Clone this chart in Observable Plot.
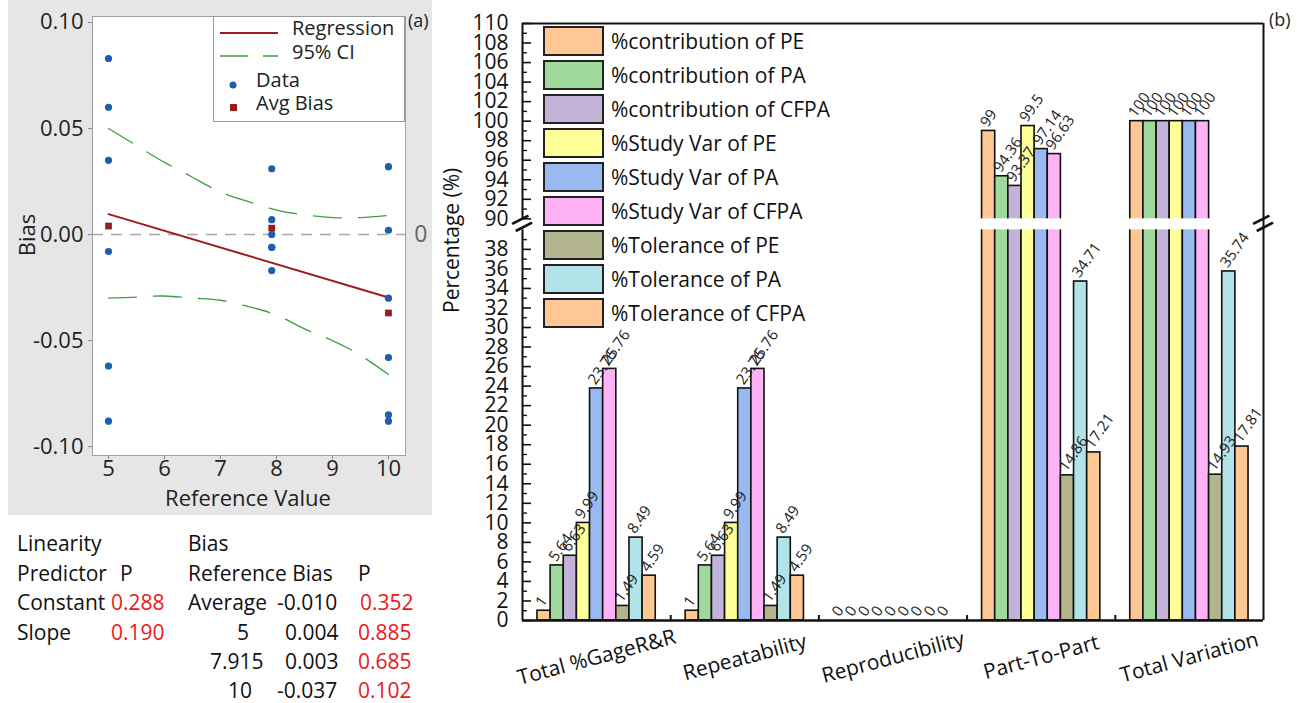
<!DOCTYPE html>
<html><head><meta charset="utf-8">
<script src="https://cdn.jsdelivr.net/npm/d3@7"></script>
<script src="https://cdn.jsdelivr.net/npm/@observablehq/plot@0.6"></script>
<style>
body{margin:0;background:#fff;font-family:"Open Sans",sans-serif;}
#root{position:relative;width:1307px;height:703px;overflow:hidden;}
.abs{position:absolute;white-space:nowrap;line-height:1;}
</style></head><body><div id="root"></div>
<script>
// ---------- Panel (a) data ----------
const refValues = [5, 7.915, 10];
const bias5 = [0.083, 0.060, 0.035, -0.008, -0.062, -0.088];
const bias7915 = [0.031, 0.007, 0.000, -0.006, -0.006, -0.017];
const bias10 = [0.032, 0.002, -0.030, -0.058, -0.085, -0.088];
const avgBias = [0.004, 0.003, -0.037];
const regX = [5, 10];
const regY = [0.0096, -0.0297];
const ciX = [5, 5.5, 6, 6.5, 7, 7.5, 8, 8.5, 9, 9.5, 10];
const ciUpper = [0.050, 0.042, 0.034, 0.027, 0.020, 0.0155, 0.0115, 0.0093, 0.008, 0.008, 0.009];
const ciLower = [-0.030, -0.0295, -0.029, -0.030, -0.031, -0.034, -0.038, -0.0445, -0.050, -0.057, -0.066];
const xTicksA = [5, 6, 7, 8, 9, 10];
const yTicksA = [-0.10, -0.05, 0, 0.05, 0.10];
const legendA = ["Regression", "95% CI", "Data", "Avg Bias"];
// table
const linearityHead = ["Linearity", "Predictor", "P"];
const linearityRows = [["Constant", "0.288"], ["Slope", "0.190"]];
const biasHead = ["Bias", "Reference Bias", "P"];
const biasRows = [["Average", "-0.010", "0.352"], ["5", "0.004", "0.885"], ["7.915", "0.003", "0.685"], ["10", "-0.037", "0.102"]];

// ---------- Panel (b) data ----------
const seriesNames = ["%contribution of PE", "%contribution of PA", "%contribution of CFPA", "%Study Var of PE", "%Study Var of PA", "%Study Var of CFPA", "%Tolerance of PE", "%Tolerance of PA", "%Tolerance of CFPA"];
const seriesColors = ["#FFC794", "#9FD99B", "#C4B3D9", "#FFFF99", "#9BB9F1", "#FFB3F7", "#B1B48D", "#B2E3E8", "#FFC794"];
const categories = ["Total %GageR&R", "Repeatability", "Reproducibility", "Part-To-Part", "Total Variation"];
const totalGageRR = [1, 5.64, 6.63, 9.99, 23.76, 25.76, 1.49, 8.49, 4.59];
const repeatability = [1, 5.64, 6.63, 9.99, 23.76, 25.76, 1.49, 8.49, 4.59];
const reproducibility = [0, 0, 0, 0, 0, 0, 0, 0, 0];
const partToPart = [99, 94.36, 93.37, 99.5, 97.14, 96.63, 14.86, 34.71, 17.21];
const totalVariation = [100, 100, 100, 100, 100, 100, 14.93, 35.74, 17.81];
const yTicksLower = [0, 2, 4, 6, 8, 10, 12, 14, 16, 18, 20, 22, 24, 26, 28, 30, 32, 34, 36, 38];
const yTicksUpper = [90, 92, 94, 96, 98, 100, 102, 104, 106, 108, 110];
const yMinorLower = [1, 3, 5, 7, 9, 11, 13, 15, 17, 19, 21, 23, 25, 27, 29, 31, 33, 35, 37, 39];
const yMinorUpper = [91, 93, 95, 97, 99, 101, 103, 105, 107, 109];
const yBreak = [40, 90];
const yMax = 110;
const yTitle = "Percentage (%)";

const root = document.getElementById("root");
function addText(txt, left, cy, size, color, extra) {
  const s = document.createElement("div");
  s.className = "abs";
  s.textContent = txt;
  s.style.left = left + "px";
  s.style.top = cy + "px";
  s.style.fontSize = size + "px";
  s.style.color = color || "#111";
  s.style.transform = "translateY(-50%)";
  if (extra) Object.assign(s.style, extra);
  root.appendChild(s);
  return s;
}

// ================= Panel (a) =================
const bg = document.createElement("div");
Object.assign(bg.style, {position: "absolute", left: "8px", top: "0px", width: "424px", height: "515px", background: "#e6e6e6"});
root.appendChild(bg);

const points = [];
[bias5, bias7915, bias10].forEach((arr, i) => arr.forEach(v => points.push({x: refValues[i], y: v})));
const avgData = refValues.map((x, i) => ({x, y: avgBias[i]}));
const regData = regX.map((x, i) => ({x, y: regY[i]}));
const ciData = ciX.map((x, i) => ({x, upper: ciUpper[i], lower: ciLower[i]}));

const pa = Plot.plot({
  width: 440, height: 515,
  marginLeft: 92, marginRight: 35, marginTop: 16, marginBottom: 60,
  style: {background: "transparent", fontFamily: "Open Sans", fontSize: "22px", color: "#222"},
  x: {domain: [4.714, 10.304]},
  y: {domain: [-0.1042, 0.1028]},
  marks: [
    Plot.frame({fill: "white", stroke: "#a0a0a0"}),
    Plot.ruleY([0], {stroke: "#a8a8a8", strokeWidth: 1.5, strokeDasharray: "11,8"}),
    Plot.line(ciData, {x: "x", y: "upper", stroke: "#3f9f3f", strokeWidth: 1.3, strokeDasharray: "28,17", curve: "natural"}),
    Plot.line(ciData, {x: "x", y: "lower", stroke: "#3f9f3f", strokeWidth: 1.3, strokeDasharray: "28,17", curve: "natural"}),
    Plot.line(regData, {x: "x", y: "y", stroke: "#a01c1c", strokeWidth: 2}),
    Plot.dot(points, {x: "x", y: "y", r: 3.6, fill: "#1b5fae"}),
    Plot.dot(avgData, {x: "x", y: "y", symbol: "square", r: 3.8, fill: "#981c1c"}),
    Plot.axisX({ticks: xTicksA, tickSize: 4, tickPadding: 1, label: null, tickFormat: d => String(d), stroke: "#888"}),
    Plot.axisY({ticks: yTicksA, tickSize: 4, tickPadding: 5, label: null, tickFormat: d => d.toFixed(2), stroke: "#888"}),
    Plot.text([0], {y: d => d, frameAnchor: "right", dx: 22, text: () => "0", fill: "#666", fontSize: 23})
  ]
});
pa.style.position = "absolute"; pa.style.left = "0px"; pa.style.top = "0px";
root.appendChild(pa);

addText("Reference Value", 248, 497, 22, "#222", {transform: "translate(-50%,-50%)"});
addText("Bias", 26, 235, 22, "#222", {transform: "translate(-50%,-50%) rotate(-90deg)"});
addText("(a)", 408, 20, 18, "#222");

// legend (a)
const lg = document.createElement("div");
Object.assign(lg.style, {position: "absolute", left: "213px", top: "16px", width: "192px", height: "106px", background: "#fff", border: "1px solid #999", boxSizing: "border-box"});
root.appendChild(lg);
const ns = "http://www.w3.org/2000/svg";
const lsvg = document.createElementNS(ns, "svg");
lsvg.setAttribute("width", 192); lsvg.setAttribute("height", 106);
lsvg.style.position = "absolute"; lsvg.style.left = "213px"; lsvg.style.top = "16px";
lsvg.innerHTML = `<line x1="7" x2="65" y1="17" y2="17" stroke="#a01c1c" stroke-width="2"/>
<line x1="7" x2="65" y1="40" y2="40" stroke="#3f9f3f" stroke-width="1.3" stroke-dasharray="28,15"/>
<circle cx="20" cy="69" r="3.5" fill="#1b5fae"/>
<rect x="17" y="88" width="7" height="7" fill="#981c1c"/>`;
root.appendChild(lsvg);
addText(legendA[0], 292, 28, 20, "#222");
addText(legendA[1], 292, 52, 20, "#222");
addText(legendA[2], 256, 80, 20, "#222");
addText(legendA[3], 256, 103, 20, "#222");

// table
const rowY = [543, 573, 602, 632, 661, 690];
const red = "#e8191b";
addText(linearityHead[0], 17, rowY[0], 21);
addText(linearityHead[1], 17, rowY[1], 21);
addText(linearityHead[2], 120, rowY[1], 21);
linearityRows.forEach((r, i) => { addText(r[0], 17, rowY[2 + i], 21); addText(r[1], 111, rowY[2 + i], 21, red); });
addText(biasHead[0], 188, rowY[0], 21);
addText(biasHead[1], 188, rowY[1], 21);
addText(biasHead[2], 358, rowY[1], 21);
const refLeft = [188, 237, 210, 228];
const biasLeft = [277, 285, 285, 277];
const pLeft = [360, 358, 358, 358];
biasRows.forEach((r, i) => {
  addText(r[0], refLeft[i], rowY[2 + i], 21);
  addText(r[1], biasLeft[i], rowY[2 + i], 21);
  addText(r[2], pLeft[i], rowY[2 + i], 21, red);
});

// ================= Panel (b) =================
const valuesByCategory = [totalGageRR, repeatability, reproducibility, partToPart, totalVariation];
const rows = [];
categories.forEach((c, gi) => valuesByCategory[gi].forEach((v, si) => rows.push({cat: c, gi, si, series: seriesNames[si], value: v})));
const nS = seriesNames.length;
const groupPad = 0.101;
const barW = (1 - 2 * groupPad) / nS;
const bx1 = d => d.gi - 0.5 + groupPad + d.si * barW;
const bx2 = d => bx1(d) + barW;
const bxc = d => bx1(d) + barW / 2;

const W = 877, H = 703, mL = 92, mR = 44, mT = 23, mB = 83, gapPx = 11;
const yBottomPx = H - mB, yTopPx = mT;
const unit = (yBottomPx - yTopPx - gapPx) / ((yBreak[0] - 0) + (yMax - yBreak[1]));
const yRange = [yBottomPx, yBottomPx - yBreak[0] * unit, yTopPx + (yMax - yBreak[1]) * unit, yTopPx];
const xDom = [-0.5, categories.length - 0.5];
const yMid = (yBreak[0] + yBreak[1]) / 2;

const pb = Plot.plot({
  width: W, height: H, marginLeft: mL, marginRight: mR, marginTop: mT, marginBottom: mB,
  style: {background: "transparent", fontFamily: "Open Sans", fontSize: "21px", color: "#111"},
  x: {type: "linear", domain: xDom, axis: null},
  y: {type: "linear", domain: [0, yBreak[0], yBreak[1], yMax], range: yRange, axis: null},
  color: {domain: seriesNames, range: seriesColors},
  marks: [
    Plot.rect(rows, {x1: bx1, x2: bx2, y1: () => 0, y2: "value", fill: "series", stroke: "#111", strokeWidth: 1.6}),
    Plot.rect([yBreak], {x1: () => xDom[0], x2: () => xDom[1], y1: d => d[0], y2: d => d[1], fill: "white"}),
    Plot.ruleY([yMax], {x1: () => xDom[0], x2: () => xDom[1], stroke: "#111", strokeWidth: 2}),
    Plot.ruleY([0], {x1: () => xDom[0], x2: () => xDom[1], stroke: "#111", strokeWidth: 2.5}),
    Plot.ruleX([xDom[1]], {y1: () => 0, y2: () => yMax, stroke: "#111", strokeWidth: 2}),
    Plot.ruleX([[0, yBreak[0]], [yBreak[1], yMax]], {x: () => xDom[0], y1: d => d[0], y2: d => d[1], stroke: "#111", strokeWidth: 2}),
    Plot.axisY({ticks: yTicksLower.concat(yTicksUpper), tickSize: -9, tickPadding: 23, label: null, tickFormat: d => String(d), strokeWidth: 1.6}),
    Plot.axisY({ticks: yMinorLower.concat(yMinorUpper), tickSize: -5, tickPadding: 0, label: null, tickFormat: () => "", strokeWidth: 1.4}),
    Plot.axisX({ticks: [0.5, 1.5, 2.5, 3.5], tickSize: -5, tickPadding: 0, label: null, tickFormat: () => "", strokeWidth: 2}),
    Plot.text([yMid, yMid], {x: (d, i) => xDom[i], y: d => d, text: () => "=", rotate: -27, fontSize: 40, fill: "#111"}),
    Plot.text(rows, {x: bxc, y: "value", text: d => String(d.value), rotate: -55, textAnchor: "start", lineAnchor: "bottom", dy: -3, dx: -1, fontSize: 15, fill: "#222"}),
    Plot.text(categories, {x: (d, i) => i, y: () => 0, text: d => d, rotate: -15, dy: 37, fontSize: 21, fill: "#111"}),
    Plot.text([yTitle], {frameAnchor: "left", dx: -70, rotate: -90, text: d => d, fontSize: 21, fill: "#111", dy: -9})
  ]
});
pb.style.position = "absolute"; pb.style.left = "430px"; pb.style.top = "0px";
root.appendChild(pb);

addText("(b)", 1269, 19, 18, "#222");

// legend (b)
seriesNames.forEach((name, i) => {
  const cy = 40.5 + i * 34.1;
  const sw = document.createElement("div");
  Object.assign(sw.style, {position: "absolute", left: "543px", top: (cy - 15) + "px", width: "61px", height: "30px", background: seriesColors[i], border: "2px solid #222", boxSizing: "border-box"});
  root.appendChild(sw);
  addText(name, 611, cy, 21, "#111");
});
</script></body></html>
